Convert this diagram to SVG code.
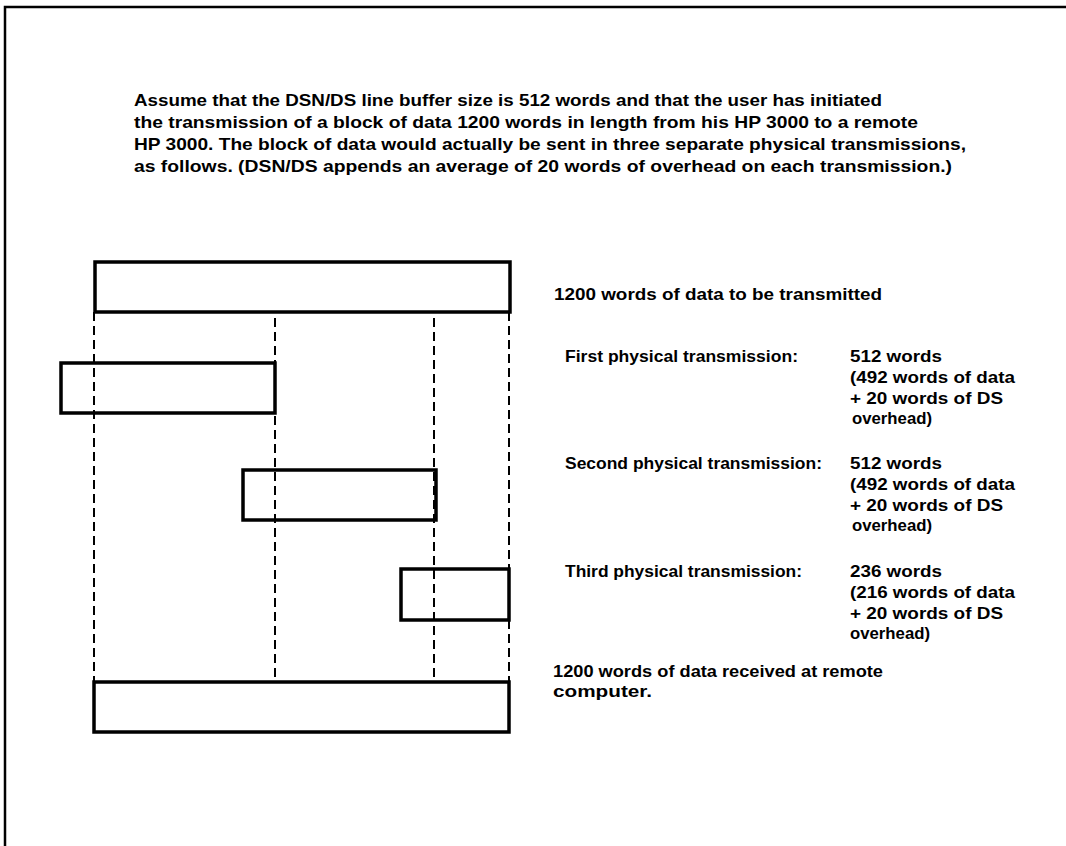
<svg xmlns="http://www.w3.org/2000/svg" width="1066" height="846" viewBox="0 0 1066 846">
<style>
.t{font-family:"Liberation Sans",Arial,sans-serif;font-weight:bold;font-size:17px;fill:#000}
.box{fill:none;stroke:#000;stroke-width:3.5}
.dash{fill:none;stroke:#000;stroke-width:2;stroke-dasharray:9 5}
.frame{fill:none;stroke:#000;stroke-width:2.5}
</style>
<rect width="1066" height="846" fill="#fff"/>
<path class="frame" d="M1066,7 H5 V846"/>
<g id="intro">
<text class="t" x="134" y="106" textLength="748" lengthAdjust="spacingAndGlyphs">Assume that the DSN/DS line buffer size is 512 words and that the user has initiated</text>
<text class="t" x="134" y="128" textLength="784" lengthAdjust="spacingAndGlyphs">the transmission of a block of data 1200 words in length from his HP 3000 to a remote</text>
<text class="t" x="134" y="150" textLength="832" lengthAdjust="spacingAndGlyphs">HP 3000.  The block of data would actually be sent in three separate physical transmissions,</text>
<text class="t" x="134" y="172" textLength="818" lengthAdjust="spacingAndGlyphs">as follows.  (DSN/DS appends an average of 20 words of overhead on each transmission.)</text>
</g>
<g id="connectors">
<line class="dash" x1="94" y1="312" x2="94" y2="682"/>
<line class="dash" x1="275" y1="318" x2="275" y2="678"/>
<line class="dash" x1="434" y1="318" x2="434" y2="680"/>
<line class="dash" x1="509" y1="312" x2="509" y2="682"/>
</g>
<g id="block-source">
<rect class="box" x="95" y="262" width="415" height="50"/>
<text class="t" x="554" y="300" textLength="328" lengthAdjust="spacingAndGlyphs">1200 words of data to be transmitted</text>
</g>
<g id="tx1">
<rect class="box" x="61" y="363" width="214" height="50"/>
<text class="t" x="565" y="362" textLength="233" lengthAdjust="spacingAndGlyphs">First physical transmission:</text>
<text class="t" x="850" y="362" textLength="92" lengthAdjust="spacingAndGlyphs">512 words</text>
<text class="t" x="850" y="383" textLength="165" lengthAdjust="spacingAndGlyphs">(492 words of data</text>
<text class="t" x="850" y="404" textLength="153" lengthAdjust="spacingAndGlyphs">+ 20 words of DS</text>
<text class="t" x="852" y="424" textLength="80" lengthAdjust="spacingAndGlyphs">overhead)</text>
</g>
<g id="tx2">
<rect class="box" x="243" y="470" width="193" height="50"/>
<text class="t" x="565" y="469" textLength="257" lengthAdjust="spacingAndGlyphs">Second physical transmission:</text>
<text class="t" x="850" y="469" textLength="92" lengthAdjust="spacingAndGlyphs">512 words</text>
<text class="t" x="850" y="490" textLength="165" lengthAdjust="spacingAndGlyphs">(492 words of data</text>
<text class="t" x="850" y="511" textLength="153" lengthAdjust="spacingAndGlyphs">+ 20 words of DS</text>
<text class="t" x="852" y="531" textLength="80" lengthAdjust="spacingAndGlyphs">overhead)</text>
</g>
<g id="tx3">
<rect class="box" x="401" y="569" width="108" height="51"/>
<text class="t" x="565" y="577" textLength="237" lengthAdjust="spacingAndGlyphs">Third physical transmission:</text>
<text class="t" x="850" y="577" textLength="92" lengthAdjust="spacingAndGlyphs">236 words</text>
<text class="t" x="850" y="598" textLength="165" lengthAdjust="spacingAndGlyphs">(216 words of data</text>
<text class="t" x="850" y="619" textLength="153" lengthAdjust="spacingAndGlyphs">+ 20 words of DS</text>
<text class="t" x="850" y="639" textLength="80" lengthAdjust="spacingAndGlyphs">overhead)</text>
</g>
<g id="block-received">
<rect class="box" x="94" y="682" width="415" height="50"/>
<text class="t" x="553" y="677" textLength="330" lengthAdjust="spacingAndGlyphs">1200 words of data received at remote</text>
<text class="t" x="553" y="697" textLength="99" lengthAdjust="spacingAndGlyphs">computer.</text>
</g>
</svg>
